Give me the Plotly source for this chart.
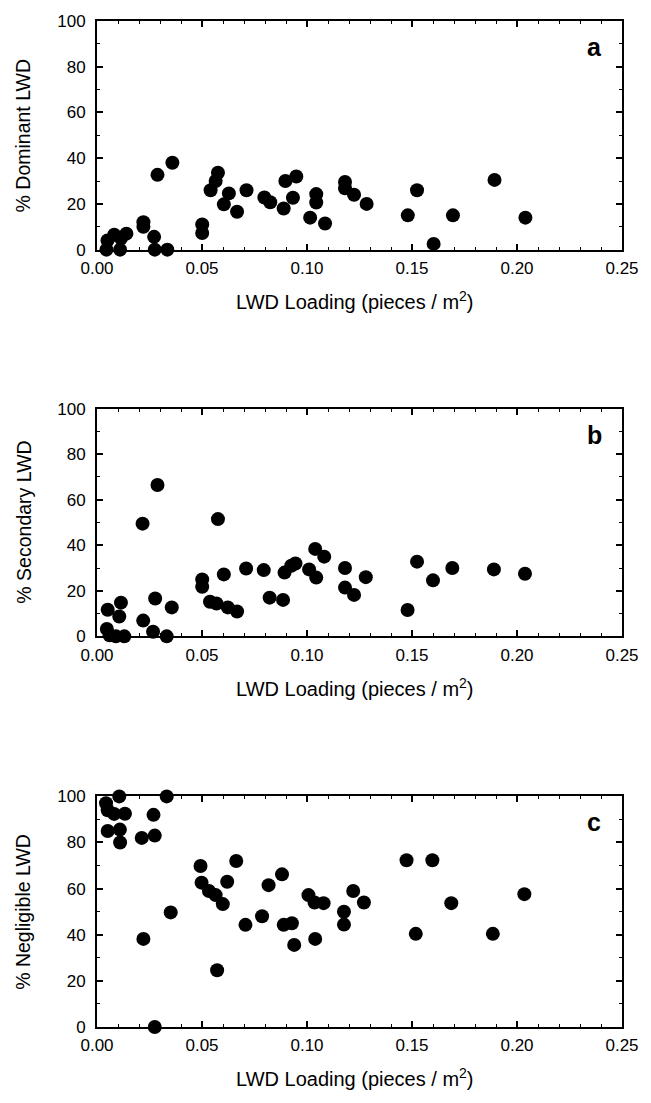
import plotly.graph_objects as go

# ---- data ----
x_a = [0.0045, 0.0050, 0.0082, 0.0110, 0.0114, 0.0140, 0.0221, 0.0221, 0.0272, 0.0275,
       0.0288, 0.0335, 0.0359, 0.0501, 0.0501, 0.0541, 0.0565, 0.0576, 0.0604, 0.0628,
       0.0667, 0.0712, 0.0797, 0.0825, 0.0889, 0.0897, 0.0933, 0.0949, 0.1015, 0.1044,
       0.1044, 0.1086, 0.1181, 0.1181, 0.1224, 0.1284, 0.1480, 0.1524, 0.1603, 0.1695,
       0.1893, 0.2040]
dominant = [0, 4, 6.5, 0, 5, 7, 12, 10, 5.6, 0,
            32.7, 0, 38, 11, 7.3, 26, 30, 33.6, 19.8, 24.6,
            16.6, 26, 22.8, 20.7, 18, 30, 22.7, 32, 14, 24.3,
            20.6, 11.4, 29.6, 26.8, 24, 20, 15, 26, 2.5, 15,
            30.5, 14]

x_b = [0.0047, 0.0051, 0.0060, 0.0090, 0.0106, 0.0114, 0.0130, 0.0217, 0.0220, 0.0267,
       0.0277, 0.0288, 0.0332, 0.0356, 0.0501, 0.0501, 0.0538, 0.0569, 0.0576, 0.0604,
       0.0623, 0.0667, 0.0710, 0.0794, 0.0822, 0.0886, 0.0893, 0.0925, 0.0945, 0.1010,
       0.1039, 0.1044, 0.1082, 0.1181, 0.1181, 0.1224, 0.1280, 0.1479, 0.1524, 0.1600,
       0.1692, 0.1890, 0.2038]
secondary = [3.2, 11.7, 0.5, 0, 8.7, 14.8, 0, 49.5, 6.9, 2,
             16.6, 66.5, 0, 12.7, 25, 21.8, 15.2, 14.4, 51.5, 27.2,
             12.7, 10.9, 29.8, 29.1, 17, 16, 28, 31, 32, 29.4,
             38.4, 25.8, 35, 30, 21.4, 18.2, 26, 11.6, 32.8, 24.6,
             30, 29.4, 27.5]

x_c = [0.0043, 0.0051, 0.0051, 0.0082, 0.0106, 0.0109, 0.0110, 0.0133, 0.0213, 0.0221,
       0.0269, 0.0275, 0.0275, 0.0332, 0.0351, 0.0493, 0.0498, 0.0533, 0.0565, 0.0572,
       0.0599, 0.0620, 0.0663, 0.0707, 0.0786, 0.0817, 0.0881, 0.0889, 0.0928, 0.0939,
       0.1007, 0.1036, 0.1039, 0.1079, 0.1176, 0.1176, 0.1220, 0.1271, 0.1474, 0.1518,
       0.1597, 0.1687, 0.1885, 0.2035]
negligible = [97, 94, 85, 92.4, 100, 85.6, 80, 92.5, 82, 38.2,
              92, 83, 0, 100, 49.7, 69.8, 62.6, 59, 57.2, 24.6,
              53.3, 63, 72, 44.3, 48, 61.5, 66.2, 44.3, 45, 35.6,
              57.2, 54, 38.2, 53.7, 50, 44.4, 59, 54, 72.3, 40.4,
              72.3, 53.7, 40.4, 57.6]

y_titles = ["% Dominant LWD", "% Secondary LWD", "% Negligible LWD"]
letters = ["a", "b", "c"]
x_title = "LWD Loading (pieces / m<sup>2</sup>)"
x_ticks = [0.0, 0.05, 0.10, 0.15, 0.20, 0.25]
x_ticktext = ["0.00", "0.05", "0.10", "0.15", "0.20", "0.25"]
y_ticks = [0, 20, 40, 60, 80, 100]

# ---- layout geometry (pixels) ----
W, H = 651, 1103
L, R = 97, 623
TOP, BOT = 15, 1027
panels_px = [(15, 245), (405, 634), (795, 1027)]
FONT = "Liberation Sans, Arial, Helvetica, sans-serif"


def py2p(py):
    return (BOT - py) / (BOT - TOP)


def px2p(px):
    return (px - L) / (R - L)


fig = go.Figure()
series = [(x_a, dominant), (x_b, secondary), (x_c, negligible)]
for i, (xs, ys) in enumerate(series):
    k = "" if i == 0 else str(i + 1)
    fig.add_trace(go.Scatter(
        x=xs, y=ys, mode="markers", xaxis="x" + k, yaxis="y" + k,
        marker=dict(size=14, color="black", line=dict(width=0)),
        cliponaxis=False, showlegend=False, hoverinfo="x+y"))

    top, bot = panels_px[i]
    axis_common = dict(
        showgrid=False, zeroline=False, showline=True, linecolor="black",
        linewidth=2, mirror="ticks", ticks="inside", ticklen=6, tickwidth=1.5,
        tickcolor="black", tickfont=dict(family=FONT, size=17, color="black"),
    )
    fig.layout["xaxis" + k] = dict(
        axis_common, range=[0, 0.25], domain=[0, 1], anchor="y" + k,
        tickvals=x_ticks, ticktext=x_ticktext, ticklabelstandoff=2,
        minor=dict(dtick=0.01, ticks="inside", ticklen=3, tickcolor="black", tickwidth=1),
    )
    fig.layout["yaxis" + k] = dict(
        axis_common, range=[0, 100], domain=[py2p(bot), py2p(top)], anchor="x" + k,
        tickvals=y_ticks, ticklabelstandoff=6,
        minor=dict(dtick=10, ticks="inside", ticklen=3, tickcolor="black", tickwidth=1),
    )

    # y-axis title
    fig.add_annotation(
        text=y_titles[i], xref="paper", yref="paper",
        x=px2p(23), y=py2p((top + bot) / 2), textangle=-90, showarrow=False,
        font=dict(family=FONT, size=19.5, color="black"),
        xanchor="center", yanchor="middle")
    # x-axis title
    fig.add_annotation(
        text=x_title, xref="paper", yref="paper",
        x=px2p(355), y=py2p(bot + 51), showarrow=False,
        font=dict(family=FONT, size=20, color="black"),
        xanchor="center", yanchor="middle")
    # panel letter
    fig.add_annotation(
        text="<b>" + letters[i] + "</b>", xref="paper", yref="paper",
        x=px2p(595), y=py2p(top + 26), showarrow=False,
        font=dict(family=FONT, size=25, color="black"),
        xanchor="center", yanchor="middle")

fig.update_layout(
    width=W, height=H,
    margin=dict(l=L, r=W - R, t=TOP, b=H - BOT, pad=0),
    paper_bgcolor="white", plot_bgcolor="white",
    font=dict(family=FONT, color="black"),
)

fig.write_html(
    "out.html",
    config={"displayModeBar": False},
    post_script="document.body.style.margin='0';document.body.style.overflow='hidden';",
)
